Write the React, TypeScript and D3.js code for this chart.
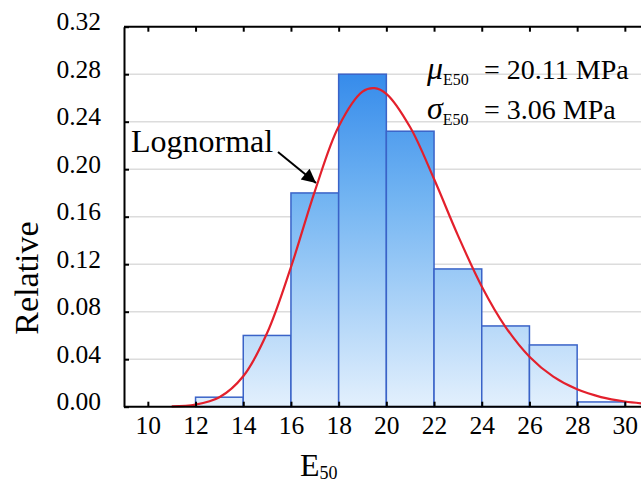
import React, { useEffect, useRef } from 'react';
import { select, scaleLinear, axisBottom, axisLeft, axisTop, line, curveCatmullRom } from 'd3';

// histogram bins (lower edge, width 2) and relative frequency
const binLow = [12, 14, 16, 18, 20, 22, 24, 26, 28];
const binFreq = [0.008, 0.06, 0.18, 0.28, 0.232, 0.116, 0.068, 0.052, 0.004];

// fitted lognormal curve
const curveX = [11, 12, 13, 14, 15, 16, 17, 18, 19, 19.5, 20, 21, 22, 23, 24, 25, 26, 27, 28, 29, 30, 31];
const curveY = [0.0002, 0.0017, 0.0079, 0.0256, 0.062, 0.1175, 0.1814, 0.236, 0.2653, 0.2682, 0.2635, 0.2353,
  0.1917, 0.1443, 0.1013, 0.0671, 0.0421, 0.0253, 0.0146, 0.0081, 0.0044, 0.0023];

const xTicks = [10, 12, 14, 16, 18, 20, 22, 24, 26, 28, 30];
const yTicks = [0, 0.04, 0.08, 0.12, 0.16, 0.2, 0.24, 0.28, 0.32];

const W = 641;
const H = 485;
const plot = { left: 124, top: 26.7, bottom: 406.7 };
const FONT = '"Liberation Serif", "Times New Roman", serif';

export default function App() {
  const ref = useRef<SVGSVGElement>(null);

  useEffect(() => {
    const svg = select(ref.current);
    svg.selectAll('*').remove();

    const x = scaleLinear().domain([9, 31]).range([plot.left, plot.left + 22 * 23.85]);
    const y = scaleLinear().domain([0, 0.32]).range([plot.bottom, plot.top]);

    const defs = svg.append('defs');
    const grad = defs.append('linearGradient')
      .attr('id', 'barFill')
      .attr('gradientUnits', 'userSpaceOnUse')
      .attr('x1', 0).attr('x2', 0)
      .attr('y1', plot.top).attr('y2', plot.bottom);
    grad.append('stop').attr('offset', '0').attr('stop-color', '#1f7ce8');
    grad.append('stop').attr('offset', '0.45').attr('stop-color', '#72b4f2');
    grad.append('stop').attr('offset', '1').attr('stop-color', '#e3f0fd');

    // gridlines
    svg.append('g')
      .selectAll('line')
      .data(yTicks.filter(d => d > 0 && d < 0.32))
      .enter()
      .append('line')
      .attr('x1', plot.left).attr('x2', W)
      .attr('y1', d => y(d)).attr('y2', d => y(d))
      .attr('stroke', '#dcdcdc')
      .attr('stroke-width', 1.5);

    // bars
    svg.append('g')
      .selectAll('rect')
      .data(binLow)
      .enter()
      .append('rect')
      .attr('x', d => x(d))
      .attr('width', d => x(d + 2) - x(d))
      .attr('y', (d, i) => y(binFreq[i]))
      .attr('height', (d, i) => plot.bottom - y(binFreq[i]))
      .attr('fill', 'url(#barFill)')
      .attr('stroke', '#3a63c8')
      .attr('stroke-width', 1.5);

    // lognormal curve
    svg.append('path')
      .datum(curveX.map((d, i) => [d, curveY[i]] as [number, number]))
      .attr('fill', 'none')
      .attr('stroke', '#e3202c')
      .attr('stroke-width', 2.2)
      .attr('d', line<[number, number]>()
        .x(d => x(d[0]))
        .y(d => y(d[1]))
        .curve(curveCatmullRom));

    // axes
    const bottomAxis = svg.append('g')
      .attr('transform', `translate(0, ${plot.bottom})`)
      .call(axisBottom(x).tickValues(xTicks).tickSizeInner(-5).tickSizeOuter(0).tickPadding(9).tickFormat(d => `${d}`));
    const leftAxis = svg.append('g')
      .attr('transform', `translate(${plot.left}, 0)`)
      .call(axisLeft(y).tickValues(yTicks).tickSizeInner(-5).tickSizeOuter(0).tickPadding(23).tickFormat(d => (+d).toFixed(2)));
    const topAxis = svg.append('g')
      .attr('transform', `translate(0, ${plot.top})`)
      .call(axisTop(x).tickValues(xTicks).tickSizeInner(-5).tickSizeOuter(0).tickFormat(() => ''));

    [bottomAxis, leftAxis, topAxis].forEach(g => {
      g.select('.domain').attr('stroke', '#000').attr('stroke-width', 2);
      g.selectAll('.tick line').attr('stroke', '#000').attr('stroke-width', 2);
      g.selectAll('text')
        .attr('font-family', FONT)
        .attr('font-size', 25.5)
        .attr('fill', '#000');
    });
    leftAxis.selectAll('text').attr('dy', '0.12em');
    // extend the top and bottom borders across the whole picture
    topAxis.select('.domain').attr('d', `M${plot.left},0H${W}`);
    bottomAxis.select('.domain').attr('d', `M${plot.left},0H${W}`);

    // axis titles
    svg.append('text')
      .attr('transform', `translate(38, 278) rotate(-90)`)
      .attr('text-anchor', 'middle')
      .attr('font-family', FONT)
      .attr('font-size', 34)
      .text('Relative');

    const xt = svg.append('text')
      .attr('x', 300)
      .attr('y', 476)
      .attr('font-family', FONT)
      .attr('font-size', 32);
    xt.append('tspan').text('E');
    xt.append('tspan').attr('font-size', 18).attr('dy', 3).text('50');

    // annotation
    svg.append('text')
      .attr('x', 131)
      .attr('y', 152)
      .attr('font-family', FONT)
      .attr('font-size', 32)
      .text('Lognormal');

    defs.append('marker')
      .attr('id', 'arrow')
      .attr('viewBox', '0 0 10 10')
      .attr('refX', 10).attr('refY', 5)
      .attr('markerWidth', 8).attr('markerHeight', 7)
      .attr('markerUnits', 'strokeWidth')
      .attr('orient', 'auto')
      .append('path')
      .attr('d', 'M0,0L10,5L0,10Z')
      .attr('fill', '#000');

    svg.append('line')
      .attr('x1', 278).attr('y1', 152)
      .attr('x2', 316).attr('y2', 183)
      .attr('stroke', '#000')
      .attr('stroke-width', 2)
      .attr('marker-end', 'url(#arrow)');

    const stats = [
      { sym: 'μ', val: '= 20.11 MPa', base: 79 },
      { sym: 'σ', val: '= 3.06 MPa', base: 119 }
    ];
    stats.forEach(s => {
      const t = svg.append('text')
        .attr('x', 427)
        .attr('y', s.base)
        .attr('font-family', FONT)
        .attr('font-size', 28);
      t.append('tspan').attr('font-style', 'italic').attr('font-size', 32).text(s.sym);
      t.append('tspan').attr('font-size', 16).attr('dy', 6).text('E50');
      t.append('tspan').attr('x', 484).attr('dy', -6).text(s.val);
    });
  }, []);

  return (
    <svg ref={ref} width={W} height={H}
      style={{ position: 'absolute', left: 0, top: 0, background: '#fff' }} />
  );
}
